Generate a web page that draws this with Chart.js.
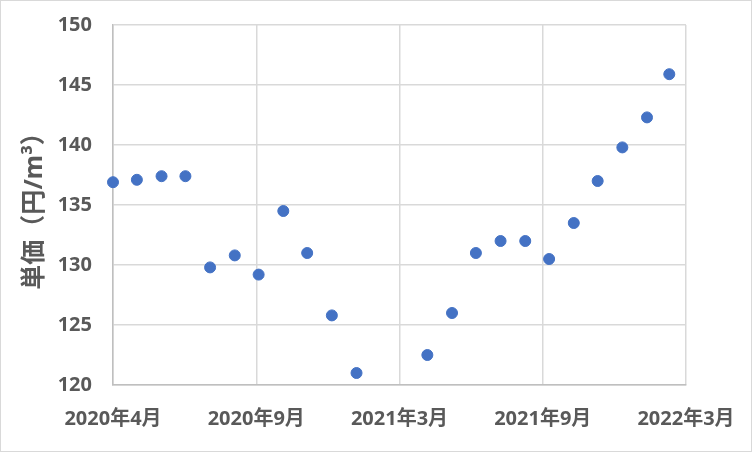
<!DOCTYPE html>
<html>
<head>
<meta charset="utf-8">
<script src="https://cdn.jsdelivr.net/npm/chart.js@4"></script>
<style>
    html, body { margin: 0; padding: 0; background: #fff; }
    #wrap { width: 752px; height: 452px; }
</style>
</head>
<body>
<div id="wrap"><canvas id="chart" width="752" height="452"></canvas></div>
<script>
// monthly unit price (yen / m3)
let months = [
    '2020-04', '2020-05', '2020-06', '2020-07', '2020-08', '2020-09',
    '2020-10', '2020-11', '2020-12', '2021-01', '2021-02',
    '2021-05', '2021-06', '2021-07', '2021-08', '2021-09', '2021-10',
    '2021-11', '2021-12', '2022-01', '2022-02', '2022-03'
];
let prices = [
    136.9, 137.1, 137.4, 137.4, 129.8, 130.8,
    129.2, 134.5, 131.0, 125.8, 121.0,
    122.5, 126.0, 131.0, 132.0, 132.0, 130.5,
    133.5, 137.0, 139.8, 142.3, 145.9
];
let yTicks = [120, 125, 130, 135, 140, 145, 150];
let yTitle = '単価（円/m³）';

// x axis runs in days from 2020-04-01, like an Excel date axis
let startDate = Date.UTC(2020, 3, 1);
let dayMs = 24 * 3600 * 1000;

function toDays(ym) {
    let parts = ym.split('-');
    return Math.round((Date.UTC(+parts[0], +parts[1] - 1, 1) - startDate) / dayMs);
}

function dayLabel(v) {
    let d = new Date(startDate + v * dayMs);
    return d.getUTCFullYear() + '年' + (d.getUTCMonth() + 1) + '月';
}

let points = [];
for (let i = 0; i < months.length; i++) {
    points.push({ x: toDays(months[i]), y: prices[i] });
}

let textColor = '#595959';
let font = "'Noto Sans', 'Noto Sans CJK JP', sans-serif";

// light frame round the whole chart
let framePlugin = {
    id: 'frame',
    afterDraw: function(chart) {
        let ctx = chart.ctx;
        ctx.save();
        ctx.strokeStyle = '#d9d9d9';
        ctx.lineWidth = 1;
        ctx.strokeRect(0.5, 0.5, chart.width - 1, chart.height - 1);
        ctx.restore();
    }
};

let ctx = document.getElementById('chart').getContext('2d');
let chart = new Chart(ctx, {
    type: 'scatter',
    data: {
        datasets: [{
            data: points,
            backgroundColor: '#4472C4',
            borderColor: '#4472C4',
            pointRadius: 5.5,
            pointHoverRadius: 5.5,
            clip: false
        }]
    },
    options: {
        responsive: false,
        animation: false,
        layout: { padding: { top: 25, right: 66, bottom: 0, left: 0 } },
        plugins: {
            legend: { display: false },
            tooltip: { enabled: false }
        },
        scales: {
            x: {
                type: 'linear',
                min: 0,
                max: 720,
                afterBuildTicks: function(scale) {
                    scale.ticks = [0, 180, 360, 540, 720].map(function(v) { return { value: v }; });
                },
                afterFit: function(scale) {
                    scale.height = 67;
                    scale.paddingLeft = 0;
                    scale.paddingRight = 0;
                },
                grid: { color: '#d9d9d9', lineWidth: 1.5, drawTicks: false },
                border: { color: '#bfbfbf', width: 1.5 },
                ticks: {
                    padding: 22,
                    color: textColor,
                    maxRotation: 0,
                    font: { family: font, size: 20, weight: 'bold' },
                    callback: function(v) { return dayLabel(v); }
                }
            },
            y: {
                min: 120,
                max: 150,
                afterBuildTicks: function(scale) {
                    scale.ticks = yTicks.map(function(v) { return { value: v }; });
                },
                afterFit: function(scale) {
                    scale.width = 113;
                    // keep the plot top at the layout padding
                    scale.paddingTop = 0;
                    scale.paddingBottom = 0;
                },
                grid: { color: '#d9d9d9', lineWidth: 1.5, drawTicks: false },
                border: { color: '#bfbfbf', width: 1.5 },
                ticks: {
                    padding: 21,
                    color: textColor,
                    font: { family: font, size: 20, weight: 'bold' }
                },
                title: {
                    display: true,
                    text: yTitle,
                    color: textColor,
                    padding: { top: 20, bottom: 0 },
                    font: { family: font, size: 25, weight: 'bold' }
                }
            }
        }
    },
    plugins: [framePlugin]
});
</script>
</body>
</html>
